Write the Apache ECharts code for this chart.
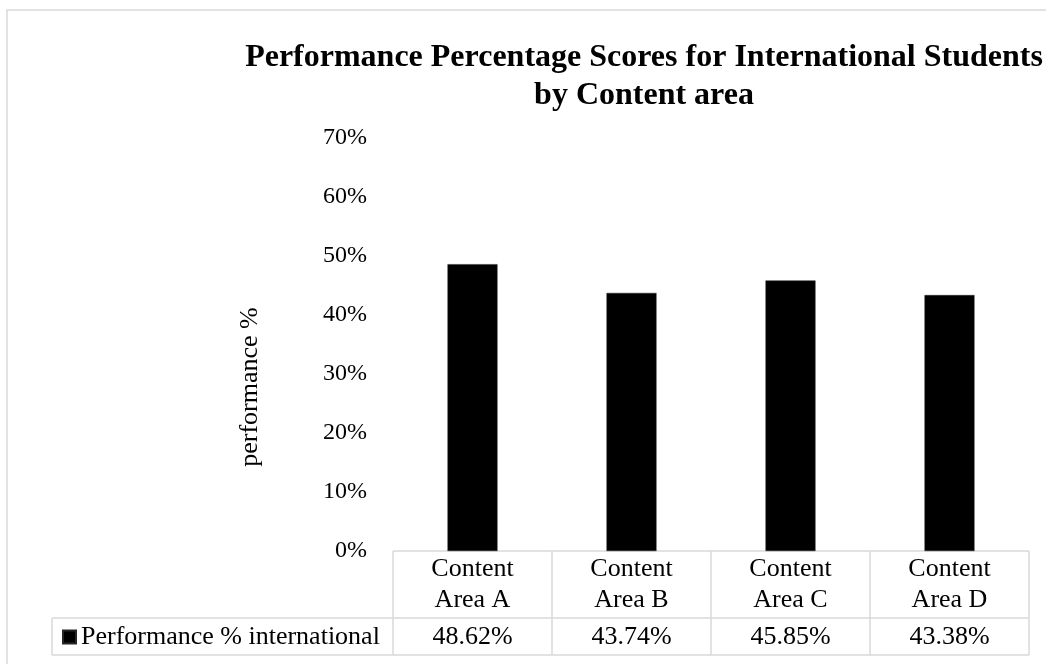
<!DOCTYPE html>
<html>
<head>
<meta charset="utf-8">
<script src="https://cdn.jsdelivr.net/npm/echarts@6/dist/echarts.min.js"></script>
<style>
html,body{margin:0;padding:0;background:#fff;}
#chart{width:1046px;height:664px;}
</style>
</head>
<body>
<div id="chart"></div>
<script>
var titleText = 'Performance Percentage Scores for International Students\nby Content area';
var categories = ['Content\nArea A', 'Content\nArea B', 'Content\nArea C', 'Content\nArea D'];
var seriesName = 'Performance % international';
var values = [48.62, 43.74, 45.85, 43.38];
var yTicks = ['0%', '10%', '20%', '30%', '40%', '50%', '60%', '70%'];
var yAxisName = 'performance %';

var FONT = '"Liberation Serif", "Times New Roman", serif';
var chart = echarts.init(document.getElementById('chart'));
var GRID = {left: 393, right: 17, top: 138, bottom: 113};

var option = {
  animation: false,
  backgroundColor: '#fff',
  title: {
    text: titleText,
    left: 639, top: 34, textAlign: 'center',
    textStyle: {fontFamily: FONT, fontWeight: 'bold', fontSize: 32, color: '#000', lineHeight: 38}
  },
  legend: {
    show: true,
    left: 62, top: 624,
    padding: 0,
    itemWidth: 13, itemHeight: 13, itemGap: 0,
    icon: 'rect',
    data: [seriesName],
    textStyle: {fontFamily: FONT, fontSize: 26, color: '#000'}
  },
  grid: GRID,
  xAxis: [{
    type: 'category',
    data: categories,
    axisLine: {show: false},
    axisTick: {show: false},
    axisLabel: {fontFamily: FONT, fontSize: 26, color: '#000', lineHeight: 31, margin: 3, interval: 0}
  }, {
    type: 'category',
    position: 'bottom',
    offset: 70,
    data: values.map(function (v) { return v.toFixed(2) + '%'; }),
    axisLine: {show: false},
    axisTick: {show: false},
    axisLabel: {fontFamily: FONT, fontSize: 26, color: '#000', lineHeight: 26, margin: 3, interval: 0}
  }],
  yAxis: {
    type: 'value',
    min: 0, max: 70, interval: 10,
    axisLine: {show: false},
    axisTick: {show: false},
    splitLine: {show: false},
    axisLabel: {
      fontFamily: FONT, fontSize: 24, color: '#000', margin: 26,
      formatter: function (v) { return yTicks[Math.round(v / 10)]; }
    }
  },
  series: [{
    name: seriesName,
    type: 'bar',
    data: values,
    xAxisIndex: 0,
    barWidth: 50,
    itemStyle: {color: '#000', borderColor: '#262626', borderWidth: 0.5}
  }]
};
chart.setOption(option);

// Data table grid lines, outer frame and axis title
var p0 = chart.convertToPixel({xAxisIndex: 0, yAxisIndex: 0}, [0, 0]);
var p1 = chart.convertToPixel({xAxisIndex: 0, yAxisIndex: 0}, [1, 0]);
var band = p1[0] - p0[0];
var yTop = p0[1];
var yMid = yTop + 67;
var yBot = yTop + 104;
var legendLeft = 52;
var lineStyle = {stroke: '#d9d9d9', lineWidth: 1.5};
var els = [{
  type: 'rect', silent: true, z: -1,
  shape: {x: 7, y: 10, width: 1100, height: 700},
  style: {fill: 'none', stroke: '#d9d9d9', lineWidth: 1.5}
}, {
  type: 'text', silent: true,
  x: 250, y: 387, rotation: Math.PI / 2,
  style: {text: yAxisName, fontFamily: FONT, fontSize: 26, fill: '#000', align: 'center', verticalAlign: 'middle'}
}];
var xs = [];
for (var i = 0; i <= categories.length; i++) {
  xs.push(p0[0] - band / 2 + i * band);
}
var xEnd = xs[xs.length - 1];
els.push({type: 'line', silent: true, shape: {x1: xs[0], y1: yTop, x2: xEnd, y2: yTop}, style: lineStyle});
els.push({type: 'line', silent: true, shape: {x1: legendLeft, y1: yMid, x2: xEnd, y2: yMid}, style: lineStyle});
els.push({type: 'line', silent: true, shape: {x1: legendLeft, y1: yBot, x2: xEnd, y2: yBot}, style: lineStyle});
els.push({type: 'line', silent: true, shape: {x1: legendLeft, y1: yMid, x2: legendLeft, y2: yBot}, style: lineStyle});
xs.forEach(function (x) {
  els.push({type: 'line', silent: true, shape: {x1: x, y1: yTop, x2: x, y2: yBot}, style: lineStyle});
});
chart.setOption({graphic: {elements: els}});
</script>
</body>
</html>
